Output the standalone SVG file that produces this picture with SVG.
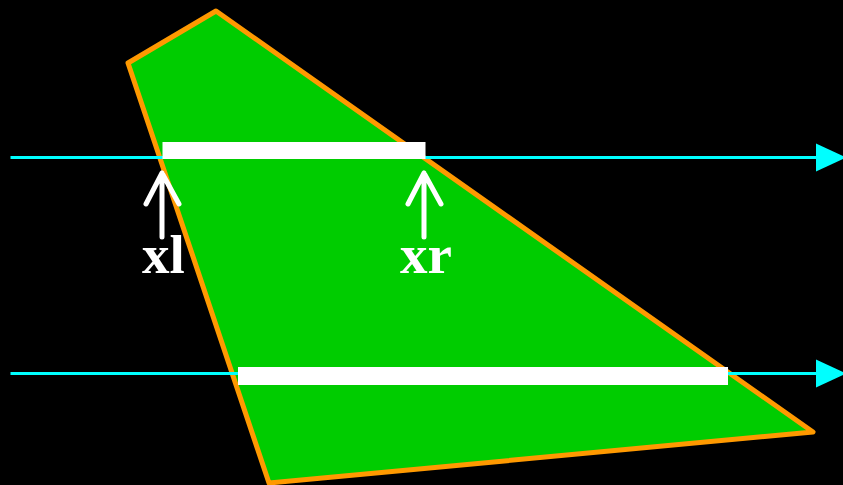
<svg xmlns="http://www.w3.org/2000/svg" width="843" height="485" viewBox="0 0 843 485">
<style>
.ray{stroke:#00FFFF;stroke-width:3;fill:none}
.bar{fill:#FFFFFF}
.ptr{stroke:#FFFFFF;stroke-width:5;fill:none;stroke-linecap:round;stroke-linejoin:round}
.lbl{font-family:"Liberation Serif","Times New Roman",serif;font-weight:bold;font-size:55px;fill:#FFFFFF;text-anchor:middle}
</style>
<defs>
<marker id="ah" markerUnits="userSpaceOnUse" markerWidth="32" markerHeight="30" refX="0" refY="14" orient="auto" overflow="visible">
<path d="M0,0 L30,14 L0,28 Z" fill="#00FFFF"/>
</marker>
</defs>
<rect width="843" height="485" fill="#000000"/>
<g id="polygon">
<polygon points="128,63 216,11 813,432 269,483" fill="#00CC00" stroke="#FF9900" stroke-width="5" stroke-linejoin="round"/>
</g>
<g id="connectors">
<line class="ray" x1="10.5" y1="157.5" x2="816" y2="157.5" marker-end="url(#ah)"/>
<line class="ray" x1="10.5" y1="373.5" x2="816" y2="373.5" marker-end="url(#ah)"/>
</g>
<g id="span1"><rect class="bar" x="162.5" y="142" width="263" height="17"/></g>
<g id="span2"><rect class="bar" x="238" y="367" width="490" height="18"/></g>
<g id="xl">
<path class="ptr" d="M162,237 V173 M146,204 L162,173 L179,204"/>
<text class="lbl" x="163.5" y="273">xl</text>
</g>
<g id="xr">
<path class="ptr" d="M424,237 V173 M408,204 L424,173 L441,204"/>
<text class="lbl" x="426" y="273">xr</text>
</g>
</svg>
